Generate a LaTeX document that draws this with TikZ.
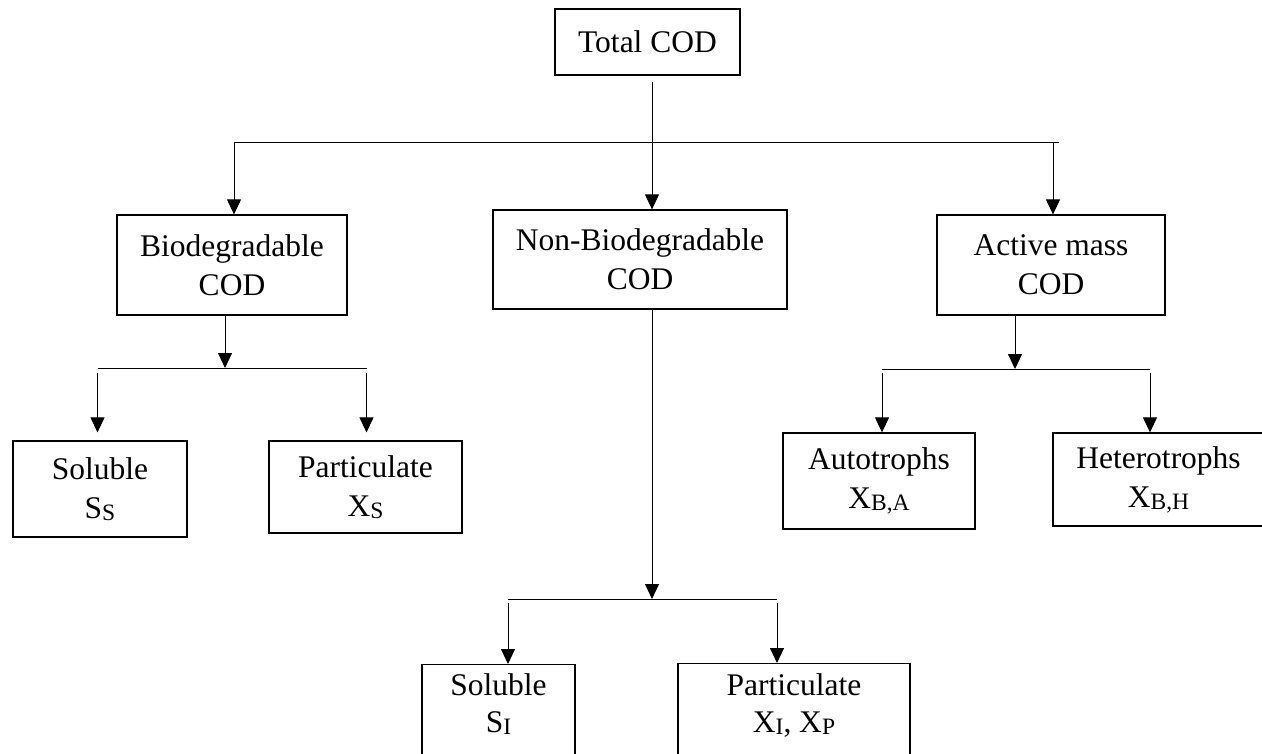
\documentclass[tikz,border=0pt]{standalone}
\usepackage{fontspec}
\setmainfont{Liberation Serif}
\usetikzlibrary{arrows.meta,positioning}
\tikzset{box/.style={draw, line width=1.2pt, align=center, inner sep=0pt, font=\fontsize{31.5}{39}\selectfont},
  boxtext/.style={align=center, inner sep=0pt, font=\fontsize{31.5}{37}\selectfont},
  link/.style={line width=0.9pt},
  drop/.style={line width=0.9pt, -{Triangle[width=14pt,length=15pt]}}}
\newcommand{\lowsub}[1]{\raisebox{-2pt}{\fontsize{23.5}{23.5}\selectfont #1}}

\begin{document}
\begin{tikzpicture}[x=1pt,y=-1pt]
   \useasboundingbox (0,0) rectangle (1262,754);
   \clip (0,0) rectangle (1262,754);
   \node[box, minimum width=185pt, minimum height=66pt] (total) at (647.5,42) {Total COD};
   \node[box, minimum width=230pt, minimum height=100pt] (bio) at (232,265) {Biodegradable\\COD};
   \node[box, minimum width=294pt, minimum height=99pt] (nonbio) at (640,259.5) {Non-Biodegradable\\COD};
   \node[box, minimum width=228pt, minimum height=100pt] (active) at (1051,265) {Active mass\\COD};
   \node[box, minimum width=174pt, minimum height=96pt] (solS) at (100,489) {Soluble\\S\lowsub{S}};
   \node[box, minimum width=193pt, minimum height=92pt] (partS) at (365.5,487) {Particulate\\X\lowsub{S}};
   \node[box, minimum width=192pt, minimum height=96pt] (auto) at (879,481) {Autotrophs\\X\lowsub{B,A}};
   \node[box, minimum width=211pt, minimum height=93pt] (hetero) at (1158.5,479.5) {Heterotrophs\\X\lowsub{B,H}};
   \node[box, minimum width=153pt, minimum height=110pt, anchor=north] (solI) at (498.5,664) {};
   \node[box, minimum width=232pt, minimum height=110pt, anchor=north] (partI) at (794,663) {};
   \node[boxtext, below=9pt of solI.north] (solItext) {Soluble\\S\lowsub{I}};
   \node[boxtext, below=10pt of partI.north] (partItext) {Particulate\\X\lowsub{I}, X\lowsub{P}};

   \coordinate (bar0L) at (234,142);
   \coordinate (bar0R) at (1059,142);
   \coordinate (j0) at (652,142);
   \coordinate (j0r) at (1053,142);
   \draw[link] (bar0L) -- (bar0R);
   \draw[drop] (total.south -| j0) ++(0,6) -- (j0 |- nonbio.north);
   \draw[drop] (bar0L) -- (bar0L |- bio.north);
   \draw[drop] (j0r) -- (j0r |- active.north);

   \coordinate (bar1) at (225,368);
   \coordinate (bar1L) at (97.5,368);
   \coordinate (bar1R) at (366.5,368);
   \draw[drop] (bar1 |- bio.south) -- (bar1);
   \draw[link] (bar1L) -- (bar1R);
   \draw[drop, shorten >=8pt] (bar1L) ++(0,5) -- (bar1L |- solS.north);
   \draw[drop, shorten >=8pt] (bar1R) ++(0,5) -- (bar1R |- partS.north);

   \coordinate (bar2) at (1015,369);
   \coordinate (bar2L) at (882,369);
   \coordinate (bar2R) at (1150,369);
   \draw[drop] (bar2 |- active.south) -- (bar2);
   \draw[link] (bar2L) -- (bar2R);
   \draw[drop] (bar2L) ++(0,4) -- (bar2L |- auto.north);
   \draw[drop] (bar2R) ++(0,4) -- (bar2R |- hetero.north);

   \coordinate (bar3) at (652,599);
   \coordinate (bar3L) at (508,599);
   \coordinate (bar3R) at (777,599);
   \draw[drop] (bar3 |- nonbio.south) -- (bar3);
   \draw[link] (bar3L) -- (bar3R);
   \draw[drop] (bar3L) ++(0,4) -- (bar3L |- solI.north);
   \draw[drop] (bar3R) ++(0,4) -- (bar3R |- partI.north);
  \end{tikzpicture}
\end{document}
